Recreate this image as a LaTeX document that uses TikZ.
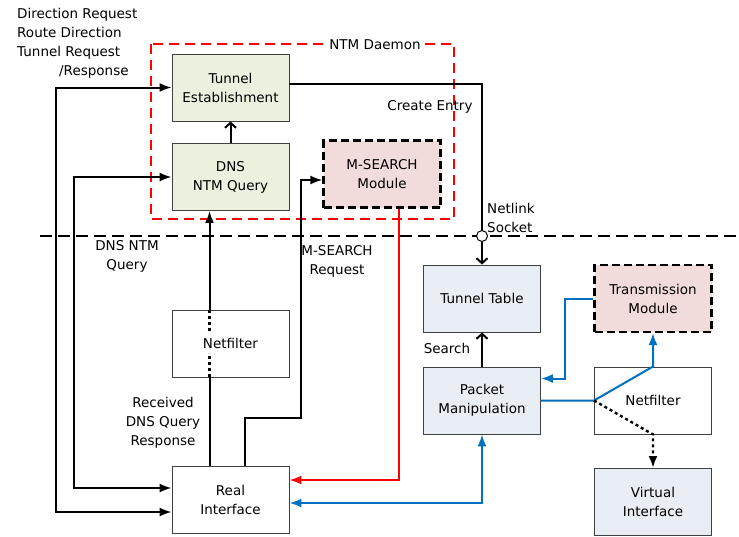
\documentclass[tikz,border=0pt]{standalone}
\usepackage{fontspec}
\setmainfont{DejaVu Sans}
\usetikzlibrary{arrows.meta,positioning,calc}
\definecolor{daemongreen}{HTML}{EBF1DE}
\definecolor{kernelblue}{HTML}{E9EDF4}
\definecolor{modpink}{HTML}{F2DCDB}
\definecolor{flowblue}{HTML}{0070C0}

\begin{document}
\begin{tikzpicture}[x=1pt, y=-1pt, every node/.style={font=\fontsize{13.5}{19}\selectfont},
	box/.style={draw=black!75, line width=0.9pt, minimum width=117pt, minimum height=67pt, inner sep=0pt, align=center},
	modbox/.style={box, draw=black, line width=2.2pt, dash pattern=on 8pt off 4pt, fill=modpink},
	conn/.style={line width=2pt},
	dotline/.style={conn, line width=2.4pt, dash pattern=on 3pt off 3pt},
	fat/.tip={Latex[length=12pt,width=9pt]},
	barb/.tip={Straight Barb[length=5pt,width=11pt]}]
	\useasboundingbox (0,0) rectangle (739,536);
	% user space
	\draw[red, line width=2.2pt, dash pattern=on 10pt off 6pt] (151,44) rectangle (454,219);
	\node[fill=white, inner sep=2pt] (daemon) at (375,45) {NTM Daemon};
	\node[box, fill=daemongreen] (tunest) at (230.5,87.5) {Tunnel\\Establishment};
	\node[box, fill=daemongreen] (dnsq) at (230.5,177) {DNS\\NTM Query};
	\node[modbox] (msmod) at (382,174) {M-SEARCH\\Module};
	% kernel space
	\draw[conn, dash pattern=on 12pt off 6pt] (40,236) -- (739,236);
	\node[box, fill=kernelblue] (tuntab) at (482,298.5) {Tunnel Table};
	\node[modbox] (trans) at (653,298.5) {Transmission\\Module};
	\node[box, fill=kernelblue] (pktman) at (482,400.5) {Packet\\Manipulation};
	\node[box] (nfright) at (653,400.5) {Netfilter};
	\node[box, fill=kernelblue] (virt) at (653,502) {Virtual\\Interface};
	\node[box] (nfleft) at (230.5,343.5) {Netfilter};
	\node[box] (real) at (230.5,500) {Real\\Interface};
	\node[circle, draw, line width=1pt, fill=white, minimum size=11pt, inner sep=0pt] (netlink) at (482,236) {};

	% labels
	\node[anchor=north west, align=left, inner sep=0pt] (reqlbl) at (17,8.5) {Direction Request\\Route Direction\\Tunnel Request\\\hspace*{42pt}/Response};
	\node (entrylbl) at (430,107) {Create Entry};
	\node[anchor=west, align=left, inner sep=0pt] (nllbl) at (487,217.5) {Netlink\\Socket};
	\node[align=center] (dnslbl) at (127,256) {DNS NTM\\Query};
	\node[align=center] (mslbl) at (337,261) {M-SEARCH\\Request};
	\node[align=center] (rcvlbl) at (163,423) {Received\\DNS Query\\Response};
	\node (searchlbl) at (447,348) {Search};

	% connectors
	\draw[conn, -barb] (dnsq) -- (tunest);
	\draw[conn, fat-fat] ([yshift=-12]real.west) -- ++(-116,0) |- (tunest.west);
	\draw[conn, fat-fat] ([yshift=12]real.west) -- ++(-98,0) |- (dnsq.west);
	\draw[conn] ([xshift=-21]real.north) -- ([xshift=-21]nfleft.south);
	\draw[dotline] ([xshift=-21]nfleft.south) -- ++(0,-24);
	\draw[dotline] ([xshift=-21]nfleft.north) -- ++(0,21);
	\draw[conn, -fat] ([xshift=-21]nfleft.north) -- ([xshift=-21]dnsq.south);
	\draw[conn, -fat] ([xshift=14]real.north) -- ++(0,-48) -- ++(56,0) |- ([yshift=-6]msmod.west);
	\draw[conn, red, -fat] ([xshift=17]msmod.south) |- ([yshift=20]real.east);
	\draw[conn, flowblue, fat-fat] ([yshift=-3]real.east) -| (pktman.south);
	\draw[conn] ([yshift=4]tunest.east) -| (netlink.north);
	\draw[conn, -barb] (netlink) -- (tuntab);
	\draw[conn, -barb] (pktman) -- (tuntab);
	\draw[conn, flowblue, -fat] (trans.west) -- ++(-28,0) |- ([yshift=22]pktman.east);
	\draw[conn, flowblue, -fat] (pktman.east) -- (nfright.west) -- (nfright.north) -- (trans.south);
	\draw[dotline, -fat] (nfright.west) -- (nfright.south) -- (virt.north);
\end{tikzpicture}
\end{document}
